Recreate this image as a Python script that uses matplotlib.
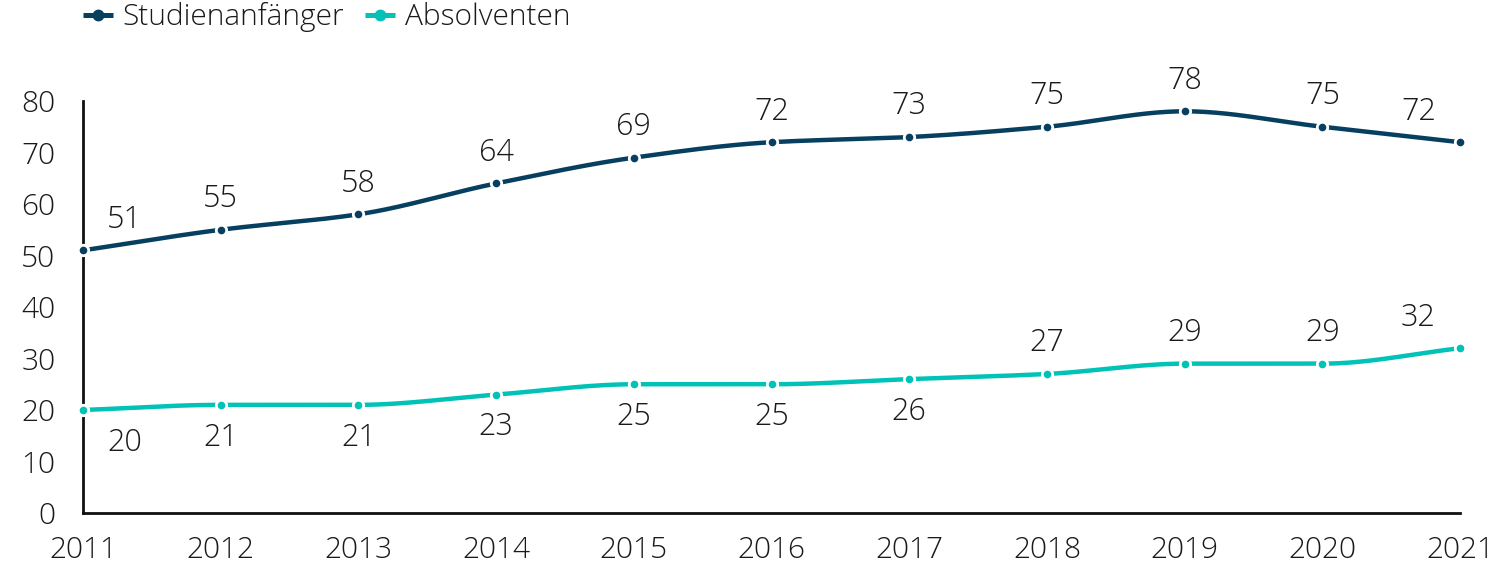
import numpy as np
import matplotlib
matplotlib.use("Agg")
import matplotlib.pyplot as plt
from matplotlib.lines import Line2D

plt.rcParams['font.family'] = ['Open Sans', 'DejaVu Sans']
plt.rcParams['font.weight'] = 'light'

years = [2011, 2012, 2013, 2014, 2015, 2016, 2017, 2018, 2019, 2020, 2021]
studienanfaenger = [51, 55, 58, 64, 69, 72, 73, 75, 78, 75, 72]
absolventen = [20, 21, 21, 23, 25, 25, 26, 27, 29, 29, 32]
# label placement: 'a' above, 'b' below, 'r'/'l' shifted right/left
pos_start = ['ar', 'a', 'a', 'a', 'a', 'a', 'a', 'a', 'a', 'a', 'al']
pos_abs = ['br', 'b', 'b', 'b', 'b', 'b', 'b', 'a', 'a', 'a', 'al']

c_dark = '#063f5f'
c_teal = '#00c2b6'
c_text = '#1a1a1a'


def smooth(x, y, n=40):
    x = np.asarray(x, float)
    y = np.asarray(y, float)
    h = np.diff(x)
    d = np.diff(y) / h
    m = np.zeros_like(y)
    m[0] = d[0]
    m[-1] = d[-1]
    for i in range(1, len(y) - 1):
        if d[i - 1] * d[i] <= 0:
            m[i] = 0
        else:
            m[i] = 2 / (1 / d[i - 1] + 1 / d[i])
    xs, ys = [], []
    for i in range(len(x) - 1):
        t = np.linspace(0, 1, n, endpoint=False)
        h00 = 2 * t**3 - 3 * t**2 + 1
        h10 = t**3 - 2 * t**2 + t
        h01 = -2 * t**3 + 3 * t**2
        h11 = t**3 - t**2
        xs.append(x[i] + t * h[i])
        ys.append(h00 * y[i] + h10 * h[i] * m[i] + h01 * y[i + 1] + h11 * h[i] * m[i + 1])
    xs.append([x[-1]])
    ys.append([y[-1]])
    return np.concatenate(xs), np.concatenate(ys)


fig = plt.figure(figsize=(14.96, 5.69), dpi=100)
ax = fig.add_axes([0.0555, 0.0984, 0.9205, 0.7241])

for vals, col, poss in [(studienanfaenger, c_dark, pos_start), (absolventen, c_teal, pos_abs)]:
    sx, sy = smooth(years, vals)
    ax.plot(sx, sy, color=col, lw=3.2, solid_capstyle='butt', clip_on=False, zorder=3)
    ax.plot(years, vals, 'o', color=col, ms=6, mec='white', mew=3.5, clip_on=False, zorder=4)
    ax.plot(years, vals, 'o', color=col, ms=5.5, mec=col, mew=0, clip_on=False, zorder=5)
    for x, v, p in zip(years, vals, poss):
        dx = 0
        if 'r' in p:
            dx = 30
        if 'l' in p:
            dx = -30
        if p.startswith('a'):
            dy, va = 10.5, 'bottom'
        else:
            dy, va = -12, 'top'
        ax.annotate(str(v), (x, v), xytext=(dx, dy), textcoords='offset points',
                    ha='center', va=va, fontsize=22, color=c_text, fontweight='light')

ax.set_xlim(2011, 2021)
ax.set_ylim(0, 80)
ax.set_xticks(years)
ax.set_yticks(range(0, 81, 10))
ax.tick_params(axis='both', length=0, labelsize=21.5, colors=c_text)
ax.tick_params(axis='x', pad=16)
ax.tick_params(axis='y', pad=20)
for lab in ax.get_xticklabels() + ax.get_yticklabels():
    lab.set_fontweight('light')
for s in ['top', 'right']:
    ax.spines[s].set_visible(False)
for s in ['left', 'bottom']:
    ax.spines[s].set_linewidth(2)
    ax.spines[s].set_color('#111111')

handles = [
    Line2D([], [], color=c_dark, lw=3.6, marker='o', ms=7.5, mec=c_dark, solid_capstyle='butt'),
    Line2D([], [], color=c_teal, lw=3.6, marker='o', ms=7.5, mec=c_teal, solid_capstyle='butt'),
]
leg = fig.legend(handles, ['Studienanfänger', 'Absolventen'], loc='center left',
                 bbox_to_anchor=(83 / 1496, 1 - 17 / 569), ncol=2, frameon=False,
                 borderpad=0, borderaxespad=0,
                 fontsize=21.5, handlelength=1.0, handletextpad=0.33, columnspacing=0.7)
for t in leg.get_texts():
    t.set_color(c_text)
    t.set_fontweight('light')

fig.savefig('out.png', dpi=100)
